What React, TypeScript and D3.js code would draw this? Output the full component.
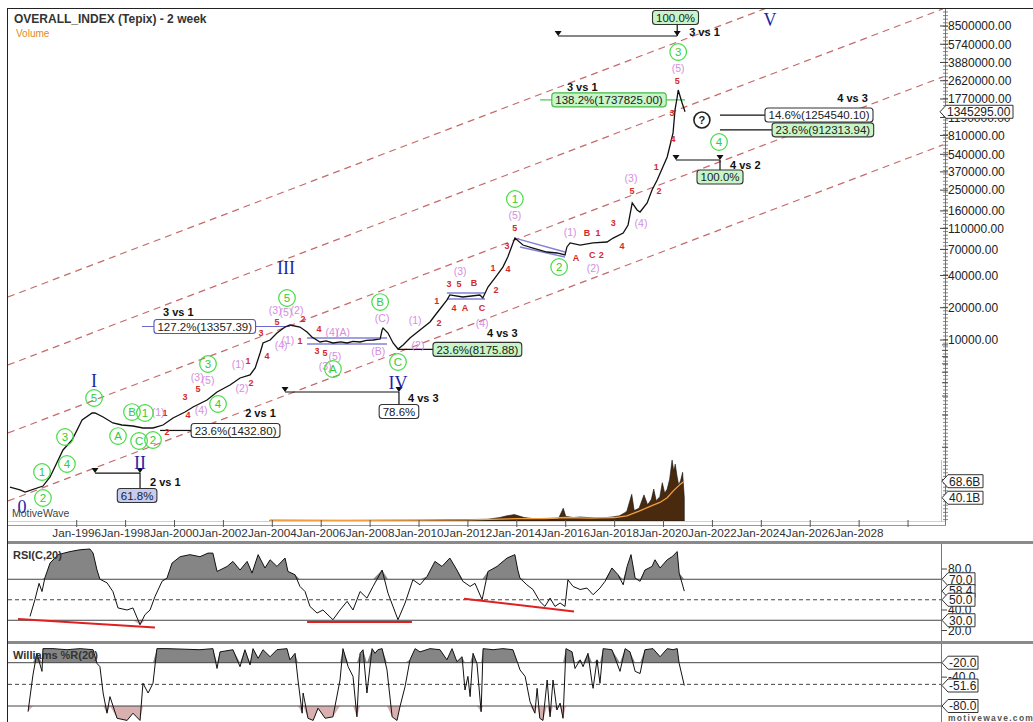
import React from "react";
import * as d3 from "d3";

// ---------------- data ----------------
const priceDates = [1993.27, 1993.68, 1993.89, 1994.62, 1994.91, 1995.44, 1995.81, 1996.22, 1996.63, 1996.75,
  1997.08, 1997.48, 1997.85, 1998.30, 1998.71, 1999.12, 1999.53, 1999.94, 2000.43, 2000.76,
  2001.33, 2001.74, 2002.27, 2002.68, 2003.09, 2003.30, 2003.50, 2003.62, 2003.91, 2004.19,
  2004.52, 2004.72, 2005.13, 2005.42, 2005.62, 2005.95, 2006.20, 2006.48, 2006.80, 2007.06,
  2007.30, 2007.59, 2007.85, 2008.12, 2008.41, 2008.49, 2008.53, 2008.73, 2008.94, 2009.14,
  2009.35, 2009.63, 2010.04, 2010.45, 2010.73, 2011.14, 2011.26, 2011.79, 2012.49, 2012.61,
  2012.82, 2013.10, 2013.43, 2013.63, 2013.92, 2014.25, 2014.66, 2015.23, 2015.64, 2015.97,
  2016.05, 2016.18, 2016.59, 2017.12, 2017.69, 2017.94, 2018.35, 2018.55, 2018.72, 2018.92,
  2019.04, 2019.33, 2019.53, 2019.74, 2020.15, 2020.39, 2020.47, 2020.56, 2020.60, 2020.76,
  2020.88];
const priceValues = [425, 399, 382, 434, 527, 942, 1167, 1794, 2085, 2085,
  1914, 1683, 1611, 1577, 1511, 1511, 1611, 1872, 2129, 2371,
  2755, 3273, 3804, 4424, 4721, 5484, 7570, 9376, 10000, 11620,
  13213, 13800, 13213, 11880, 10660, 9580, 9800, 9380, 9600, 9380,
  9700, 9580, 9900, 10000, 10210, 12390, 12940, 11620, 9380, 8240,
  8980, 10440, 12390, 14720, 17860, 23600, 26300, 25180, 26300, 24660,
  31190, 37840, 47930, 59430, 89330, 76890, 72080, 66180, 64830, 62100,
  73790, 80380, 76890, 80380, 82050, 89330, 99540, 118300, 189700, 163300,
  156300, 189700, 250600, 310900, 509700, 853000, 1400000, 1849000, 2148000, 1625000,
  1345295];

const volumeSeries: [number, number][] = [
  [2003.9, 1.5], [2005.5, 1.2], [2007.0, 1.0], [2008.5, 1.3], [2010.0, 1.5], [2011.0, 2], [2012.0, 2.5],
  [2012.8, 3], [2013.3, 6], [2013.6, 9], [2013.9, 11], [2014.3, 6], [2014.7, 4], [2015.2, 3], [2015.7, 4],
  [2015.9, 22], [2016.0, 8], [2016.3, 6], [2016.6, 7], [2016.9, 6], [2017.2, 5], [2017.5, 5], [2017.9, 7],
  [2018.2, 9], [2018.4, 14], [2018.5, 17], [2018.7, 46], [2018.8, 18], [2019.0, 22], [2019.2, 45],
  [2019.35, 28], [2019.5, 37], [2019.6, 55], [2019.7, 35], [2019.85, 42], [2019.95, 66], [2020.05, 48],
  [2020.15, 55], [2020.25, 72], [2020.35, 105], [2020.42, 86], [2020.48, 98], [2020.55, 78], [2020.62, 62],
  [2020.7, 70], [2020.78, 84], [2020.85, 40.1]];
const volumeMaSeries: [number, number][] = [
  [2003.9, 1], [2008, 1.2], [2012, 2], [2014, 4], [2015, 4], [2016, 6], [2017, 5], [2018, 6], [2018.5, 9],
  [2019.0, 17], [2019.5, 26], [2019.85, 32], [2020.15, 40], [2020.4, 52], [2020.7, 64], [2020.85, 68.6]];

const rsiSeries: [number, number][] = [
  [1994.09, 33.7], [1994.29, 50], [1994.46, 66], [1994.58, 58], [1994.70, 71.5], [1994.91, 85.8], [1995.24, 94],
  [1995.73, 97], [1996.14, 98.8], [1996.54, 99.5], [1996.67, 95.5], [1996.83, 79], [1996.95, 70], [1997.24, 66.5],
  [1997.48, 58], [1997.69, 42], [1998.06, 40], [1998.30, 42], [1998.59, 25.6], [1998.79, 35.4], [1999.00, 40],
  [1999.20, 53], [1999.49, 68], [1999.69, 71], [1999.90, 85.8], [2000.23, 92], [2000.63, 94], [2001.04, 92],
  [2001.37, 95.5], [2001.57, 95.5], [2001.74, 77.6], [2002.15, 82.5], [2002.39, 87.4], [2002.68, 79],
  [2002.97, 87.4], [2003.17, 76], [2003.42, 94], [2003.70, 81], [2003.91, 89], [2004.19, 82.5], [2004.52, 90.7],
  [2004.64, 77.6], [2004.93, 74.4], [2005.13, 63], [2005.34, 58], [2005.54, 43.5], [2005.83, 37], [2006.07, 40],
  [2006.48, 30.5], [2006.77, 40], [2007.06, 48.4], [2007.30, 40], [2007.59, 58], [2007.87, 51.6], [2008.12, 63],
  [2008.49, 79], [2008.73, 56.5], [2009.14, 30.5], [2009.43, 46.8], [2009.75, 69.5], [2010.04, 64.6],
  [2010.33, 72.7], [2010.65, 87.4], [2010.94, 82.5], [2011.26, 90.7], [2011.55, 79], [2011.79, 68], [2012.09, 63],
  [2012.29, 66], [2012.58, 50], [2012.82, 77.6], [2013.19, 82.5], [2013.60, 90.7], [2013.92, 94], [2014.04, 79],
  [2014.13, 71], [2014.41, 64.6], [2014.66, 60], [2014.94, 48.4], [2015.15, 43.5], [2015.36, 51.6],
  [2015.56, 43.5], [2015.77, 46.8], [2015.97, 43.5], [2016.09, 69.5], [2016.30, 63], [2016.59, 60],
  [2016.87, 61.4], [2017.12, 54.9], [2017.40, 61.4], [2017.61, 68], [2017.89, 81], [2018.14, 74.4],
  [2018.35, 64.6], [2018.51, 82.5], [2018.67, 94], [2018.84, 71], [2019.04, 68], [2019.24, 79], [2019.53, 82.5],
  [2019.65, 89], [2019.86, 81], [2020.15, 89], [2020.35, 92], [2020.56, 97], [2020.64, 76], [2020.85, 58.4]];

const wprSeries: [number, number][] = [
  [1994.01, -87.8], [1994.21, -37], [1994.37, -7], [1994.58, -32], [1994.62, -0.5], [1995.03, -0.5], [1995.60, -2],
  [1996.14, -0.5], [1996.67, -2], [1996.83, -21], [1996.95, -25.5], [1997.08, -62], [1997.24, -90], [1997.36, -67],
  [1997.65, -97], [1998.06, -100], [1998.30, -90], [1998.59, -100], [1998.71, -48.5], [1998.92, -62],
  [1999.12, -48.5], [1999.28, -0.5], [1999.69, -0.5], [2001.04, -2], [2001.57, -0.5], [2001.74, -28],
  [2001.86, -5], [2002.39, -2], [2002.68, -25.5], [2002.88, -2], [2003.09, -23], [2003.21, -0.5], [2003.42, -14],
  [2003.62, -2], [2003.91, -11.7], [2004.19, -2], [2004.60, -0.5], [2004.72, -16], [2004.93, -7], [2005.05, -44],
  [2005.22, -90], [2005.26, -62], [2005.46, -97], [2005.67, -100], [2005.87, -83], [2006.16, -97], [2006.48, -95],
  [2006.77, -44], [2006.89, -0.5], [2007.10, -25.5], [2007.30, -39], [2007.46, -95], [2007.59, -7], [2007.71, -2],
  [2007.87, -62], [2008.08, -0.5], [2008.20, -7], [2008.32, -2], [2008.49, -0.5], [2008.69, -30], [2008.90, -95],
  [2009.10, -100], [2009.22, -81], [2009.43, -53], [2009.63, -16], [2009.84, -0.5], [2010.04, -5], [2010.45, -0.5],
  [2010.86, -2], [2011.14, -16], [2011.35, -0.5], [2011.55, -18.6], [2011.76, -11.7], [2011.88, -57.8],
  [2012.00, -39], [2012.09, -67], [2012.21, -7], [2012.37, -21], [2012.54, -88], [2012.62, -0.5], [2013.03, -2],
  [2013.43, -0.5], [2013.84, -2], [2014.04, -21], [2014.13, -30], [2014.34, -39], [2014.54, -74], [2014.74, -90],
  [2014.83, -55.5], [2014.94, -97], [2015.07, -100], [2015.24, -44], [2015.36, -95], [2015.48, -44],
  [2015.64, -85.5], [2015.77, -76], [2015.89, -97], [2016.01, -0.5], [2016.26, -5], [2016.38, -28], [2016.59, -16],
  [2016.71, -25.5], [2016.91, -7], [2017.08, -48.5], [2017.12, -55.5], [2017.28, -16], [2017.40, -48.5],
  [2017.53, -0.5], [2017.89, -2], [2018.22, -32], [2018.43, -0.5], [2018.63, -5], [2018.84, -32], [2019.04, -35],
  [2019.24, -2], [2019.57, -0.5], [2019.86, -11.7], [2020.15, -0.5], [2020.39, -2], [2020.56, -0.5],
  [2020.64, -21], [2020.85, -51.6]];

const xTickYears = [1996, 1998, 2000, 2002, 2004, 2006, 2008, 2010, 2012, 2014, 2016, 2018, 2020, 2022, 2024, 2026, 2028, 2030];
const xLabelYears = [1996, 1998, 2000, 2002, 2004, 2006, 2008, 2010, 2012, 2014, 2016, 2018, 2020, 2022, 2024, 2026, 2028];
const priceTickValues = [8500000, 5740000, 3880000, 2620000, 1770000, 1190000, 810000, 540000, 370000, 250000, 160000, 110000, 70000, 40000, 20000, 10000];
const priceMinorTicks = [9000, 8000, 7000, 6000, 5000, 4000, 3000, 2000, 1000, 500];
const rsiTickValues = [80, 40, 20];
const rsiTagValues = [70, 58.4, 50, 30];
const wprTickValues = [-40];
const wprTagValues = [-20, -51.6, -80];
const lastPrice = 1345295;
const volumeTags = [68.6, 40.1];

// channel (dashed) lines: value at start year and end year
const channelYears = [1993.19, 2031.43];
const channelStartValues = [25180, 5848, 1357, 315];
const channelEndValues = [52900000, 12290000, 2852000, 662000];

// short blue channel segments
const blueSegments: [number, number][][] = [
  [[2005.42, 10440], [2008.69, 10440]], [[2005.42, 9178], [2008.69, 9178]],
  [[2011.14, 27440], [2012.70, 27440]], [[2011.14, 24130], [2012.70, 24130]],
  [[2013.92, 89330], [2015.97, 66180]], [[2014.13, 73700], [2015.97, 59430]]];

// Fibonacci measurement lines
const fibSegments = [
  { a: [2015.69, 6850000], b: [2020.56, 6850000], tri: true, c: "#111" },
  { a: [2020.56, 6850000], b: [2020.56, 8870000], c: "#111" },
  { a: [2014.95, 1737825], b: [2020.88, 1737825], c: "#4ccc4c" },
  { a: [2022.31, 1254540], b: [2024.15, 1254540], c: "#111" },
  { a: [2022.31, 912314], b: [2024.44, 912314], c: "#111" },
  { a: [2020.51, 477600], b: [2022.31, 477600], tri: true, c: "#111" },
  { a: [2022.31, 477600], b: [2022.31, 385000], c: "#111" },
  { a: [1998.67, 13357.39], b: [2004.72, 13357.39], c: "#6a6ad0" },
  { a: [2009.14, 8175.88], b: [2010.57, 8175.88], c: "#111" },
  { a: [2004.52, 3273], b: [2009.18, 3273], tri: true, c: "#111" },
  { a: [2009.18, 3273], b: [2009.18, 2476], c: "#111" },
  { a: [1999.41, 1432.8], b: [2000.68, 1432.8], c: "#111" },
  { a: [1996.75, 574], b: [1998.59, 574], tri: true, c: "#111" },
  { a: [1998.59, 574], b: [1998.59, 416], c: "#111" }];

const fibBoxes = [
  { t: "100.0%", yr: 2020.49, v: 10200000, fill: "#c8f5c8", stroke: "#333", anchor: "middle" },
  { t: "138.2%(1737825.00)", yr: 2017.77, v: 1737825, fill: "#c8f5c8", stroke: "#44bb44", anchor: "middle" },
  { t: "14.6%(1254540.10)", yr: 2024.15, v: 1254540, fill: "#ffffff", stroke: "#333", anchor: "start" },
  { t: "23.6%(912313.94)", yr: 2024.44, v: 912314, fill: "#c8f5c8", stroke: "#333", anchor: "start" },
  { t: "100.0%", yr: 2022.31, v: 331600, fill: "#c8f5c8", stroke: "#333", anchor: "middle" },
  { t: "127.2%(13357.39)", yr: 1999.16, v: 13357.39, fill: "#ffffff", stroke: "#5555bb", anchor: "start" },
  { t: "23.6%(8175.88)", yr: 2010.57, v: 8175.88, fill: "#c8f5c8", stroke: "#333", anchor: "start" },
  { t: "78.6%", yr: 2009.18, v: 2154, fill: "#ffffff", stroke: "#333", anchor: "middle" },
  { t: "23.6%(1432.80)", yr: 2000.68, v: 1432.8, fill: "#ffffff", stroke: "#333", anchor: "start" },
  { t: "61.8%", yr: 1998.47, v: 354, fill: "#c4ccf2", stroke: "#333", anchor: "middle" }];

const fibTitles = [
  { t: "3 vs 1", yr: 2021.05, v: 6850000, anchor: "start" },
  { t: "3 vs 1", yr: 2016.05, v: 2100000, anchor: "start" },
  { t: "4 vs 3", yr: 2028.36, v: 1660000, anchor: "end" },
  { t: "4 vs 2", yr: 2022.72, v: 393600, anchor: "start" },
  { t: "3 vs 1", yr: 1999.53, v: 16750, anchor: "start" },
  { t: "4 vs 3", yr: 2012.78, v: 10660, anchor: "start" },
  { t: "4 vs 3", yr: 2009.55, v: 2640, anchor: "start" },
  { t: "2 vs 1", yr: 2002.89, v: 1913, anchor: "start" },
  { t: "2 vs 1", yr: 1999.0, v: 434.6, anchor: "start" }];

const romanLabels: [string, number, number][] = [
  ["0", 1993.76, 277], ["I", 1996.71, 4145], ["II", 1998.59, 713], ["III", 2004.56, 46950],
  ["IV", 2009.14, 3970], ["V", 2024.35, 9660000]];

const circleLabels: [string, number, number][] = [
  ["1", 1994.58, 587], ["2", 1994.62, 336], ["3", 1995.52, 1245], ["4", 1995.60, 697], ["5", 1996.71, 2877],
  ["A", 1997.69, 1271], ["B", 1998.26, 2128], ["1", 1998.79, 2084], ["C", 1998.55, 1143], ["2", 1999.12, 1167],
  ["3", 2001.37, 5971], ["4", 2001.78, 2529], ["5", 2004.60, 24660], ["A", 2006.48, 5362], ["B", 2008.41, 22600],
  ["C", 2009.14, 6237], ["1", 2013.92, 206600], ["2", 2015.73, 47970], ["3", 2020.60, 4860000], ["4", 2022.27, 703000]];

const pinkLabels: [string, number, number][] = [
  ["(1)", 1999.33, 2128], ["(3)", 2000.93, 4519], ["(5)", 2001.37, 4236], ["(4)", 2001.09, 2223],
  ["(1)", 2002.60, 5971], ["(2)", 2002.76, 3566], ["(3)", 2004.12, 19050], ["(5)", 2004.56, 18240],
  ["(2)", 2005.01, 19050], ["(1)", 2004.64, 10000], ["(4)", 2004.36, 8982], ["(4)", 2006.44, 11880],
  ["(A)", 2006.89, 11880], ["(C)", 2008.49, 16040], ["(B)", 2008.33, 7895], ["(5)", 2006.56, 7096],
  ["(3)", 2006.16, 5716], ["(1)", 2009.84, 15370], ["(2)", 2009.96, 8982], ["(3)", 2011.68, 44050],
  ["(4)", 2012.58, 14410], ["(5)", 2013.92, 146600], ["(1)", 2016.18, 101600], ["(2)", 2017.12, 46950],
  ["(3)", 2018.67, 324600], ["(4)", 2019.08, 123300], ["(5)", 2020.60, 3440000]];

const redLabels: [string, number, number][] = [
  ["1", 1999.61, 2084], ["2", 1999.69, 1387], ["3", 2000.43, 2939], ["5", 2000.96, 3491], ["4", 2000.55, 1995],
  ["1", 2003.01, 6368], ["2", 2003.13, 3970], ["3", 2003.54, 11620], ["5", 2004.19, 14720], ["4", 2003.78, 7096],
  ["2", 2005.26, 15700], ["1", 2005.13, 9787], ["4", 2005.91, 12670], ["3", 2005.83, 7895], ["5", 2006.16, 7570],
  ["1", 2010.73, 23110], ["2", 2010.82, 14410], ["3", 2011.23, 33250], ["5", 2011.64, 33250], ["B", 2012.25, 34020],
  ["4", 2011.43, 19890], ["A", 2011.88, 19890], ["C", 2012.58, 19890], ["1", 2013.03, 46950], ["2", 2013.15, 29250],
  ["4", 2013.64, 45930], ["3", 2013.60, 75300], ["5", 2013.92, 110900], ["B", 2016.87, 99540], ["1", 2017.32, 99540],
  ["A", 2016.42, 58210], ["C", 2017.08, 62100], ["2", 2017.45, 62100], ["3", 2017.94, 123300], ["4", 2018.30, 75300],
  ["5", 2018.71, 245400], ["2", 2019.82, 245400], ["1", 2019.70, 411200], ["4", 2020.39, 750000],
  ["3", 2020.35, 1312000], ["5", 2020.56, 2606000]];

const questionMark: [number, number] = [2021.57, 1127000];

const rsiTrendLines: [number, number][][] = [
  [[1993.60, 31.2], [1999.20, 23.0]], [[2005.42, 28.2], [2009.71, 28.2]], [[2011.84, 51], [2016.34, 38.6]]];

// ---------------- helpers ----------------
const FONT = "'Liberation Sans', Arial, Helvetica, sans-serif";
const SERIF = "'Liberation Serif', 'Times New Roman', serif";

function textW(s: string, fs: number) {
  let w = 0;
  for (const c of s) {
    if (/[0-9]/.test(c)) w += 0.556;
    else if (c === ".") w += 0.278;
    else if (c === "%") w += 0.889;
    else if (c === "(" || c === ")" || c === "-") w += 0.333;
    else if (c === "B") w += 0.667;
    else w += 0.6;
  }
  return w * fs;
}

function Tag({ x0, cy, text, w }: { x0: number; cy: number; text: string; w: number }) {
  const h = 13;
  return (
    <g>
      <path d={`M${x0},${cy} L${x0 + 6},${cy - h / 2} H${x0 + w} V${cy + h / 2} H${x0 + 6} Z`} fill="#fff" stroke="#333" strokeWidth={1} />
      <text x={x0 + 7} y={cy + 4.3} fontSize={12} fontFamily={FONT} fill="#222">{text}</text>
    </g>
  );
}

export default function App() {
  const W = 1033, H = 722;
  const L = 8, R = 943, T = 9, B = 521;
  const x = d3.scaleLinear().domain([1993.19, 2031.43]).range([L, R]);
  const y = d3.scaleLog().domain([Math.pow(10, 4 - 182 / 107.2), Math.pow(10, 4 + 332 / 107.2)]).range([522, 8]);
  const yVol = d3.scaleLinear().domain([0, 100]).range([521, 463]);
  const yRsi = d3.scaleLinear().domain([20, 80]).range([630.5, 569]);
  const yWpr = d3.scaleLinear().domain([-80, -20]).range([706, 662.7]);

  const price: [number, number][] = priceDates.map((d, i) => [d, priceValues[i]]);
  const priceLine = d3.line<[number, number]>().x(d => x(d[0])).y(d => y(d[1]));
  const volArea = d3.area<[number, number]>().x(d => x(d[0])).y0(yVol(0)).y1(d => yVol(d[1]));
  const volMa = d3.line<[number, number]>().x(d => x(d[0])).y(d => yVol(d[1]));

  const rsiLine = d3.line<[number, number]>().x(d => x(d[0])).y(d => yRsi(d[1]));
  const rsiUp = d3.area<[number, number]>().x(d => x(d[0])).y0(yRsi(70)).y1(d => yRsi(Math.max(d[1], 70)));
  const rsiDn = d3.area<[number, number]>().x(d => x(d[0])).y0(yRsi(30)).y1(d => yRsi(Math.min(d[1], 30)));
  const wprLine = d3.line<[number, number]>().x(d => x(d[0])).y(d => yWpr(d[1]));
  const wprUp = d3.area<[number, number]>().x(d => x(d[0])).y0(yWpr(-20)).y1(d => yWpr(Math.max(d[1], -20)));
  const wprDn = d3.area<[number, number]>().x(d => x(d[0])).y0(yWpr(-80)).y1(d => yWpr(Math.min(d[1], -80)));

  const priceAxisX = 945.5;
  const subAxisX = 941.5;
  const minorPix = d3.range(12, 520, 3.6);

  return (
    <svg width={W} height={H} style={{ position: "absolute", left: 0, top: 0, background: "#fff" }} fontFamily={FONT}>
      <defs>
        <clipPath id="mainClip"><rect x={L} y={T} width={R - L} height={B - T} /></clipPath>
        <clipPath id="rsiClip"><rect x={L} y={545} width={subAxisX - L} height={96} /></clipPath>
        <clipPath id="wprClip"><rect x={L} y={645} width={subAxisX - L} height={77} /></clipPath>
      </defs>
      <rect x={0} y={0} width={W} height={H} fill="#fff" />

      {/* ---------- main panel ---------- */}
      <g clipPath="url(#mainClip)">
        {channelStartValues.map((v, i) => (
          <line key={"ch" + i} x1={x(channelYears[0])} y1={y(v)} x2={x(channelYears[1])} y2={y(channelEndValues[i])}
            stroke="#c46a6a" strokeWidth={1.2} strokeDasharray="7,5" />
        ))}
        {blueSegments.map((s, i) => (
          <line key={"bs" + i} x1={x(s[0][0])} y1={y(s[0][1])} x2={x(s[1][0])} y2={y(s[1][1])} stroke="#8080d8" strokeWidth={1.4} />
        ))}
        {fibSegments.map((s, i) => (
          <g key={"fs" + i}>
            <line x1={x(s.a[0])} y1={y(s.a[1])} x2={x(s.b[0])} y2={y(s.b[1])} stroke={s.c} strokeWidth={1.2} />
            {s.tri && [s.a, s.b].map((p, j) => (
              <path key={j} d={`M${x(p[0]) - 3.5},${y(p[1]) - 5} L${x(p[0]) + 3.5},${y(p[1]) - 5} L${x(p[0])},${y(p[1])} Z`} fill="#111" />
            ))}
          </g>
        ))}
        {/* volume */}
        <path d={volArea(volumeSeries) || ""} fill="#4a2a0e" stroke="#111" strokeWidth={0.6} />
        <path d={volMa(volumeMaSeries) || ""} fill="none" stroke="#f0a040" strokeWidth={1.3} />
        {/* price */}
        <path d={priceLine(price) || ""} fill="none" stroke="#111" strokeWidth={1.3} />

        {/* wave labels */}
        {redLabels.map((d, i) => (
          <text key={"r" + i} x={x(d[1])} y={y(d[2])} dy="0.35em" textAnchor="middle" fontSize={9} fontWeight="bold" fill="#d42a2a">{d[0]}</text>
        ))}
        {pinkLabels.map((d, i) => (
          <text key={"p" + i} x={x(d[1])} y={y(d[2])} dy="0.35em" textAnchor="middle" fontSize={10.5} fill="#d58ee0">{d[0]}</text>
        ))}
        {circleLabels.map((d, i) => (
          <g key={"c" + i}>
            <circle cx={x(d[1])} cy={y(d[2])} r={8.3} fill="none" stroke="#44dd44" strokeWidth={1.2} />
            <text x={x(d[1])} y={y(d[2])} dy="0.36em" textAnchor="middle" fontSize={11.5} fill="#33cc33">{d[0]}</text>
          </g>
        ))}
        {romanLabels.map((d, i) => (
          <text key={"ro" + i} x={x(d[1])} y={y(d[2])} dy="0.35em" textAnchor="middle" fontSize={18} fontFamily={SERIF} fill="#1f1fa8">{d[0]}</text>
        ))}
        <g>
          <circle cx={x(questionMark[0])} cy={y(questionMark[1])} r={8} fill="#fff" stroke="#222" strokeWidth={1.6} />
          <text x={x(questionMark[0])} y={y(questionMark[1])} dy="0.36em" textAnchor="middle" fontSize={11} fontWeight="bold" fill="#222">?</text>
        </g>
        {fibBoxes.map((b, i) => {
          const w = textW(b.t, 11.5) + 7;
          const cx = x(b.yr);
          const left = b.anchor === "middle" ? cx - w / 2 : cx;
          const cy = y(b.v);
          return (
            <g key={"fb" + i}>
              <rect x={left} y={cy - 7} width={w} height={14} rx={3} fill={b.fill} stroke={b.stroke} strokeWidth={1.1} />
              <text x={left + w / 2} y={cy + 4.2} textAnchor="middle" fontSize={11.5} fill="#222">{b.t}</text>
            </g>
          );
        })}
        {fibTitles.map((t, i) => (
          <text key={"ft" + i} x={x(t.yr)} y={y(t.v)} textAnchor={t.anchor as any} fontSize={11} fontWeight="bold" fill="#111">{t.t}</text>
        ))}
      </g>

      {/* title */}
      <text x={14} y={22.5} fontSize={12} fontWeight="bold" fill="#333">OVERALL_INDEX (Tepix) - 2 week</text>
      <text x={16} y={36.5} fontSize={10} fill="#e08a1e">Volume</text>
      <text x={12} y={517} fontSize={10.5} fill="#444">MotiveWave</text>

      {/* x axis */}
      <line x1={L} x2={priceAxisX} y1={521.5} y2={521.5} stroke="#d8d0c0" />
      <line x1={L} x2={priceAxisX} y1={525.5} y2={525.5} stroke="#999" />
      {xTickYears.map(yr => (
        <line key={"xt" + yr} x1={x(yr)} x2={x(yr)} y1={520} y2={527} stroke="#555" />
      ))}
      {xLabelYears.map(yr => (
        <text key={"xl" + yr} x={x(yr)} y={537} textAnchor="middle" fontSize={11.7} fill="#333">{`Jan-${yr}`}</text>
      ))}

      {/* price axis */}
      <line x1={priceAxisX} x2={priceAxisX} y1={8} y2={525.5} stroke="#777" />
      <line x1={941.5} x2={941.5} y1={460} y2={521.5} stroke="#c8c0b0" />
      {minorPix.map((p, i) => (
        <line key={"mp" + i} x1={943} x2={948} y1={p} y2={p} stroke="#666" strokeWidth={0.8} />
      ))}
      {priceMinorTicks.map(v => (
        <line key={"pm" + v} x1={942} x2={948} y1={y(v)} y2={y(v)} stroke="#555" />
      ))}
      {priceTickValues.map(v => (
        <g key={"pt" + v}>
          <line x1={940} x2={948} y1={y(v)} y2={y(v)} stroke="#444" />
          <text x={948} y={y(v) + 4.3} fontSize={12} fill="#222">{v.toFixed(2)}</text>
        </g>
      ))}
      <Tag x0={940} cy={y(lastPrice)} text={lastPrice.toFixed(2)} w={73} />
      {volumeTags.map(v => (
        <Tag key={"vt" + v} x0={942} cy={yVol(v)} text={`${v.toFixed(1)}B`} w={41} />
      ))}

      {/* separators & frame */}
      <rect x={7} y={541} width={W - 7} height={3} fill="#8a8a8a" />
      <rect x={7} y={641} width={W - 7} height={3} fill="#8a8a8a" />
      <line x1={7} x2={W} y1={8.5} y2={8.5} stroke="#222" />
      <line x1={7.5} x2={7.5} y1={8} y2={H} stroke="#222" />

      {/* ---------- RSI panel ---------- */}
      <g clipPath="url(#rsiClip)">
        <path d={rsiUp(rsiSeries) || ""} fill="#858585" />
        <path d={rsiDn(rsiSeries) || ""} fill="#d8b0b0" />
        <line x1={L} x2={subAxisX} y1={yRsi(70)} y2={yRsi(70)} stroke="#444" />
        <line x1={L} x2={subAxisX} y1={yRsi(50)} y2={yRsi(50)} stroke="#444" strokeDasharray="4,3" />
        <line x1={L} x2={subAxisX} y1={yRsi(30)} y2={yRsi(30)} stroke="#444" />
        <path d={rsiLine(rsiSeries) || ""} fill="none" stroke="#111" strokeWidth={1} />
        {rsiTrendLines.map((s, i) => (
          <line key={"rt" + i} x1={x(s[0][0])} y1={yRsi(s[0][1])} x2={x(s[1][0])} y2={yRsi(s[1][1])} stroke="#e02020" strokeWidth={2} />
        ))}
      </g>
      <text x={13} y={559} fontSize={11} fontWeight="bold" fill="#333">RSI(C,20)</text>
      <line x1={subAxisX} x2={subAxisX} y1={544} y2={641} stroke="#777" />
      {rsiTickValues.map(v => (
        <g key={"rk" + v}>
          <line x1={subAxisX} x2={947} y1={yRsi(v)} y2={yRsi(v)} stroke="#444" />
          <text x={948} y={yRsi(v) + 4.3} fontSize={12} fill="#222">{v.toFixed(1)}</text>
        </g>
      ))}
      {rsiTagValues.map(v => (
        <Tag key={"rg" + v} x0={942} cy={yRsi(v)} text={v.toFixed(1)} w={33} />
      ))}

      {/* ---------- Williams panel ---------- */}
      <g clipPath="url(#wprClip)">
        <path d={wprUp(wprSeries) || ""} fill="#858585" />
        <path d={wprDn(wprSeries) || ""} fill="#d8b0b0" />
        <line x1={L} x2={subAxisX} y1={yWpr(-20)} y2={yWpr(-20)} stroke="#444" />
        <line x1={L} x2={subAxisX} y1={yWpr(-50)} y2={yWpr(-50)} stroke="#444" strokeDasharray="4,3" />
        <line x1={L} x2={subAxisX} y1={yWpr(-80)} y2={yWpr(-80)} stroke="#444" />
        <path d={wprLine(wprSeries) || ""} fill="none" stroke="#111" strokeWidth={1} />
      </g>
      <text x={13} y={659} fontSize={11} fontWeight="bold" fill="#333">Williams %R(20)</text>
      <line x1={subAxisX} x2={subAxisX} y1={644} y2={H} stroke="#777" />
      {wprTickValues.map(v => (
        <g key={"wk" + v}>
          <line x1={subAxisX} x2={947} y1={yWpr(v)} y2={yWpr(v)} stroke="#444" />
          <text x={948} y={yWpr(v) + 4.3} fontSize={12} fill="#222">{v.toFixed(1)}</text>
        </g>
      ))}
      {wprTagValues.map(v => (
        <Tag key={"wg" + v} x0={942} cy={yWpr(v)} text={v.toFixed(1)} w={36} />
      ))}
      <text x={948} y={721} fontSize={8.5} fontWeight="bold" letterSpacing={1.3} fill="#555">motivewave.com</text>
    </svg>
  );
}
